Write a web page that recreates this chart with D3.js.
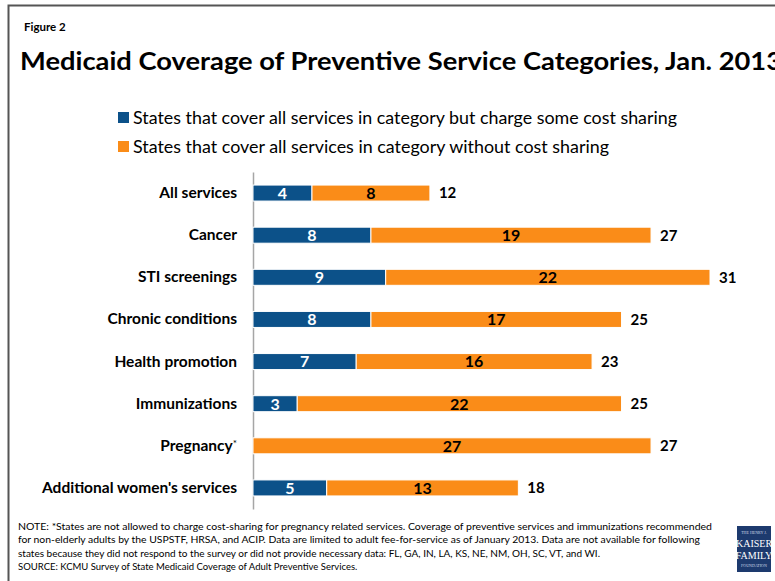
<!DOCTYPE html>
<html>
<head>
<meta charset="utf-8">
<script src="https://cdn.jsdelivr.net/npm/d3@7"></script>
<style>
  html, body { margin: 0; padding: 0; background: #fff; }
  svg { display: block; font-family: Lato, "Open Sans", sans-serif; }
</style>
</head>
<body>
<svg id="chart" width="775" height="581"></svg>
<script>
// Preventive service categories and the number of states in each coverage group
const categories = ["All services", "Cancer", "STI screenings", "Chronic conditions",
  "Health promotion", "Immunizations", "Pregnancy", "Additional women's services"];
const withCostSharing = [4, 8, 9, 8, 7, 3, 0, 5];
const withoutCostSharing = [8, 19, 22, 17, 16, 22, 27, 13];
const totals = [12, 27, 31, 25, 23, 25, 27, 18];
const seriesNames = [
  "States that cover all services in category but charge some cost sharing",
  "States that cover all services in category without cost sharing"
];
const noteLines = [
  "NOTE: *States are not allowed to charge cost-sharing for pregnancy related services. Coverage of preventive services and immunizations recommended",
  "for non-elderly adults by the USPSTF, HRSA, and ACIP.  Data are limited to adult fee-for-service as of January 2013.  Data are not available for following",
  "states because they did not respond to the survey or did not provide necessary data: FL, GA, IN, LA, KS, NE, NM, OH, SC, VT, and WI.",
  "SOURCE:  KCMU Survey of State Medicaid Coverage of Adult Preventive Services."
];
const noteWidths = [694, 682, 582, null];

const BLUE = "#0c5189";
const ORANGE = "#fa8c18";

const svg = d3.select("#chart");

// Frame
svg.append("rect").attr("x", 8.5).attr("y", 5.5).attr("width", 780).attr("height", 590)
  .attr("fill", "none").attr("stroke", "#555").attr("stroke-width", 2);

// Headings
svg.append("text").attr("x", 24).attr("y", 31).attr("font-size", 11.5).attr("font-weight", 700)
  .text("Figure 2");
svg.append("text").attr("x", 20).attr("y", 70).attr("font-size", 25).attr("font-weight", 700)
  .attr("textLength", 762).attr("lengthAdjust", "spacingAndGlyphs")
  .text("Medicaid Coverage of Preventive Service Categories, Jan. 2013");

// Legend
const legend = svg.append("g");
[BLUE, ORANGE].forEach((c, i) => {
  const y = 118 + i * 29;
  legend.append("rect").attr("x", 118).attr("y", y - 6).attr("width", 11).attr("height", 11).attr("fill", c);
  legend.append("text").attr("x", 133).attr("y", y + 6).attr("font-size", 17)
    .attr("textLength", i === 0 ? 544 : 476).attr("lengthAdjust", "spacingAndGlyphs")
    .text(seriesNames[i]);
});

// Scales
const x = d3.scaleLinear().domain([0, 31]).range([253, 710]);
const y = d3.scaleBand().domain(categories).range([172, 509]).paddingInner(0.62).paddingOuter(0.31);

// Category axis
const axis = svg.append("g").attr("transform", `translate(${x(0)},0)`)
  .call(d3.axisLeft(y).tickSize(0).tickPadding(16));
axis.select(".domain").attr("stroke", "#a6a6a6").attr("stroke-width", 1.5);
axis.selectAll(".tick text").attr("font-size", 15.5).attr("font-weight", 700)
  .attr("fill", "#000").attr("font-family", "Lato, sans-serif")
  .each(function (d) {
    if (d === "Pregnancy") {
      const t = d3.select(this);
      t.text(d);
      t.append("tspan").attr("font-size", 10).attr("font-weight", 400).attr("dy", -4).text("*");
    }
  });

// Bars
const rows = categories.map((c, i) => ({
  cat: c, a: withCostSharing[i], b: withoutCostSharing[i], total: totals[i]
}));
const g = svg.append("g");
rows.forEach(r => {
  const y0 = y(r.cat), h = y.bandwidth(), cy = y0 + h / 2;
  if (r.a > 0) {
    g.append("rect").attr("x", x(0)).attr("y", y0).attr("width", x(r.a) - x(0)).attr("height", h)
      .attr("fill", BLUE).attr("stroke", "#fff").attr("stroke-width", 1);
    g.append("text").attr("x", (x(0) + x(r.a)) / 2).attr("y", cy).attr("dy", "0.37em")
      .attr("text-anchor", "middle").attr("font-size", 16).attr("font-weight", 700).attr("fill", "#fff")
      .text(r.a);
  }
  g.append("rect").attr("x", x(r.a)).attr("y", y0).attr("width", x(r.a + r.b) - x(r.a)).attr("height", h)
    .attr("fill", ORANGE).attr("stroke", "#fff").attr("stroke-width", 1);
  g.append("text").attr("x", (x(r.a) + x(r.a + r.b)) / 2).attr("y", cy).attr("dy", "0.37em")
    .attr("text-anchor", "middle").attr("font-size", 16).attr("font-weight", 700).attr("fill", "#000")
    .text(r.b);
  g.append("text").attr("x", x(r.total) + 9).attr("y", cy).attr("dy", "0.36em")
    .attr("font-size", 15).attr("font-weight", 700).attr("fill", "#000")
    .text(r.total);
});

// Notes
noteLines.forEach((line, i) => {
  const t = svg.append("text").attr("x", 18).attr("y", 530 + i * 13.3).attr("font-size", 9.5)
    .attr("fill", "#000").text(line);
  if (noteWidths[i]) t.attr("textLength", noteWidths[i]).attr("lengthAdjust", "spacingAndGlyphs");
});

// Foundation mark
const logo = svg.append("g").attr("transform", "translate(737,526)");
logo.append("rect").attr("width", 34).attr("height", 46).attr("fill", "#1d3a6e");
logo.append("text").attr("x", 17).attr("y", 8).attr("text-anchor", "middle").attr("font-size", 4)
  .attr("fill", "#cfd8e8").attr("font-family", "Liberation Serif, serif").text("THE HENRY J.");
logo.append("text").attr("x", 17).attr("y", 21).attr("text-anchor", "middle").attr("font-size", 10)
  .attr("fill", "#fff").attr("font-family", "Liberation Serif, serif").text("KAISER");
logo.append("text").attr("x", 17).attr("y", 33).attr("text-anchor", "middle").attr("font-size", 10)
  .attr("fill", "#fff").attr("font-family", "Liberation Serif, serif").text("FAMILY");
logo.append("text").attr("x", 17).attr("y", 41).attr("text-anchor", "middle").attr("font-size", 4)
  .attr("fill", "#cfd8e8").attr("font-family", "Liberation Serif, serif").text("FOUNDATION");
</script>
</body>
</html>
